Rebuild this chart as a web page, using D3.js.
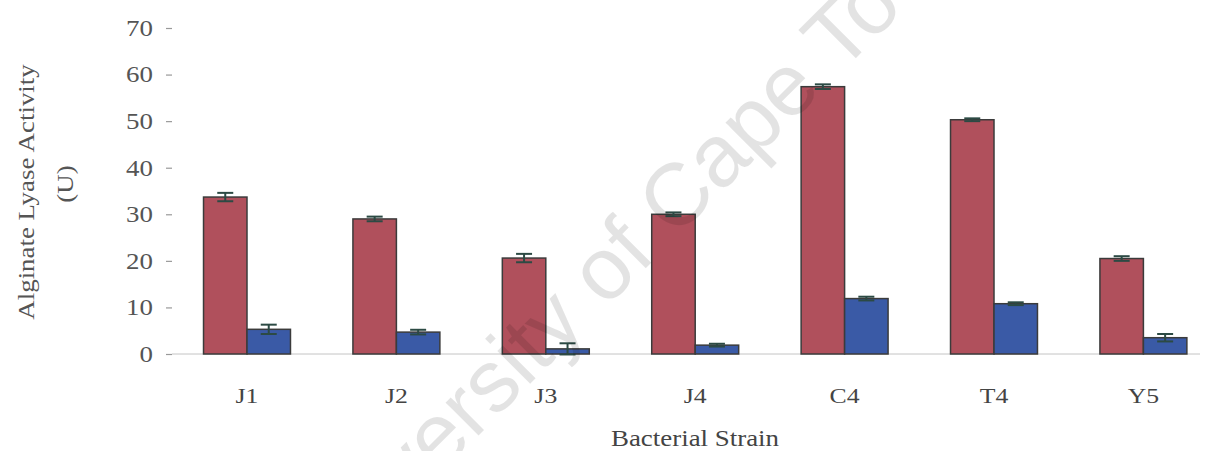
<!DOCTYPE html>
<html>
<head>
<meta charset="utf-8">
<script src="https://cdn.jsdelivr.net/npm/d3@7/dist/d3.min.js"></script>
<style>
  html, body { margin: 0; padding: 0; background: #fff; }
  svg { display: block; }
  text { font-family: "Liberation Serif", "DejaVu Serif", serif; }
</style>
</head>
<body>
<svg id="chart" width="1209" height="451"></svg>
<script>
// Alginate lyase activity per bacterial strain, two conditions with error bars
const strains = ["J1", "J2", "J3", "J4", "C4", "T4", "Y5"];
const seriesNames = ["A", "B"];
const valuesA = [33.7, 29.0, 20.6, 30.0, 57.4, 50.3, 20.5];
const errorsA = [0.9, 0.5, 0.9, 0.4, 0.5, 0.3, 0.5];
const valuesB = [5.3, 4.7, 1.1, 1.9, 11.9, 10.8, 3.5];
const errorsB = [1.0, 0.5, 1.2, 0.3, 0.4, 0.3, 0.8];
const yTicks = [0, 10, 20, 30, 40, 50, 60, 70];
const seriesColors = ["#b0505c", "#3a5aa6"];

// the serif lettering is set slightly wide
const STRETCH = 1.17;

const svg = d3.select("#chart");

const x0 = d3.scaleBand()
  .domain(strains)
  .range([172.3, 1218.1])
  .paddingInner(0.418)
  .paddingOuter(0.209);

const x1 = d3.scaleBand()
  .domain(seriesNames)
  .range([0, x0.bandwidth()]);

const y = d3.scaleLinear().domain([0, 70]).range([354, 28]);

// baseline
svg.append("line")
  .attr("x1", 172).attr("x2", 1200)
  .attr("y1", y(0)).attr("y2", y(0))
  .attr("stroke", "#c4c4c4").attr("stroke-width", 1);

// y axis: tick dashes and labels only
const yAxis = d3.axisLeft(y).tickValues(yTicks).tickSize(6).tickPadding(12);
const gy = svg.append("g").attr("transform", "translate(172,0)").call(yAxis);
gy.select(".domain").remove();
gy.selectAll(".tick line").attr("stroke", "#999").attr("stroke-width", 1.2);
gy.selectAll(".tick text")
  .attr("fill", "#555")
  .attr("x", 0)
  .attr("transform", `translate(-19,0) scale(${STRETCH},1)`)
  .style("font-family", "'Liberation Serif', serif")
  .style("font-size", "23px");

// x axis labels
const xAxis = d3.axisBottom(x0).tickSize(0).tickPadding(0);
const gx = svg.append("g").call(xAxis);
gx.select(".domain").remove();
gx.selectAll(".tick text")
  .attr("y", 0).attr("dy", null)
  .attr("transform", `translate(0,403) scale(${STRETCH},1)`)
  .attr("fill", "#444")
  .style("font-family", "'Liberation Serif', serif")
  .style("font-size", "22px");

const data = strains.map((s, i) => ({
  strain: s,
  bars: [
    { key: "A", value: valuesA[i], err: errorsA[i], color: seriesColors[0] },
    { key: "B", value: valuesB[i], err: errorsB[i], color: seriesColors[1] }
  ]
}));

const groups = svg.append("g").selectAll("g")
  .data(data).join("g")
  .attr("transform", d => `translate(${x0(d.strain)},0)`);

groups.selectAll("rect")
  .data(d => d.bars).join("rect")
  .attr("x", b => x1(b.key))
  .attr("y", b => y(b.value))
  .attr("width", x1.bandwidth())
  .attr("height", b => y(0) - y(b.value))
  .attr("fill", b => b.color)
  .attr("stroke", "#3b3b3b")
  .attr("stroke-width", 1.5);

// error bars
const eb = groups.selectAll("g.err")
  .data(d => d.bars).join("g").attr("class", "err")
  .attr("stroke", "#2c4a44").attr("stroke-width", 2);
const cx = b => x1(b.key) + x1.bandwidth() / 2;
eb.append("line")
  .attr("x1", cx).attr("x2", cx)
  .attr("y1", b => y(b.value - b.err))
  .attr("y2", b => y(b.value + b.err));
eb.append("line")
  .attr("x1", b => cx(b) - 8).attr("x2", b => cx(b) + 8)
  .attr("y1", b => y(b.value + b.err))
  .attr("y2", b => y(b.value + b.err));
eb.append("line")
  .attr("x1", b => cx(b) - 8).attr("x2", b => cx(b) + 8)
  .attr("y1", b => y(b.value - b.err))
  .attr("y2", b => y(b.value - b.err));

// axis titles
svg.append("text")
  .attr("transform", `translate(34,192) rotate(-90) scale(${STRETCH},1)`)
  .attr("text-anchor", "middle")
  .attr("fill", "#555")
  .style("font-size", "23px")
  .text("Alginate Lyase Activity");
svg.append("text")
  .attr("transform", `translate(73,184) rotate(-90) scale(${STRETCH},1)`)
  .attr("text-anchor", "middle")
  .attr("fill", "#555")
  .style("font-size", "23px")
  .text("(U)");

svg.append("text")
  .attr("transform", `translate(695,446) scale(${STRETCH},1)`)
  .attr("text-anchor", "middle")
  .attr("fill", "#444")
  .style("font-size", "23px")
  .text("Bacterial Strain");

// light diagonal watermark over the plot
svg.append("text")
  .attr("transform", "translate(650,264) rotate(-45)")
  .attr("text-anchor", "middle")
  .style("font-family", "'Liberation Sans', Arial, sans-serif")
  .style("font-size", "88px")
  .attr("fill", "#000")
  .attr("fill-opacity", 0.11)
  .text("University of Cape Town");
</script>
</body>
</html>
